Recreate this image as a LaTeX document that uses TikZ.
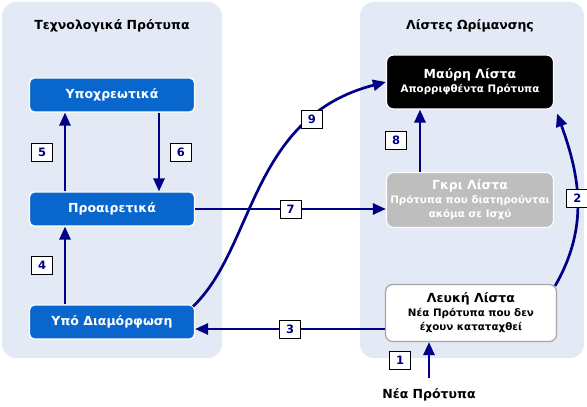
\documentclass[tikz,border=0pt]{standalone}
\usepackage{fontspec}
\setmainfont{DejaVu Sans}
\usetikzlibrary{arrows.meta, positioning, calc}
\definecolor{panelbg}{RGB}{227,233,245}
\definecolor{boxblue}{RGB}{8,102,204}
\definecolor{arrowblue}{RGB}{0,0,135}
\definecolor{boxgray}{RGB}{190,190,190}
\definecolor{edgegray}{RGB}{165,165,165}
\newcommand{\listsub}[1]{{\fontsize{10.3}{12.5}\selectfont #1}}

\begin{document}
\begin{tikzpicture}[
    x=1pt, y=1pt,
    panel/.style={fill=panelbg, rounded corners=14pt, minimum width=220pt, minimum height=356pt},
    heading/.style={font=\bfseries\fontsize{12.5}{14}\selectfont, text=black},
    box/.style={draw=white, line width=1.2pt, rounded corners=5pt, minimum width=165pt, minimum height=34pt, fill=boxblue, text=white, font=\bfseries\fontsize{12.5}{14}\selectfont},
    list/.style={line width=1.2pt, rounded corners=7pt, minimum width=167pt, minimum height=54pt, align=center, inner sep=2pt, font=\bfseries\fontsize{12.5}{14}\selectfont},
    arrow/.style={-{Triangle[length=13pt,width=11pt]}, line width=2.7pt, color=arrowblue},
    num/.style={draw=black, fill=white, line width=0.9pt, minimum width=21pt, minimum height=18pt, inner sep=0pt, text=arrowblue, font=\bfseries\fontsize{11.5}{13}\selectfont}
]
    \useasboundingbox (0,0) rectangle (587,407);

    % panels and headings
    \node[panel] (techpanel) at (112,227) {};
    \node[panel, minimum width=224pt] (listpanel) at (472,227) {};
    \node[heading] (techtitle) at (112,381) {Τεχνολογικά Πρότυπα};
    \node[heading] (listtitle) at (470,381) {Λίστες Ωρίμανσης};

    % technology standards
    \node[box] (mandatory) at (112,312) {Υποχρεωτικά};
    \node[box] (optional) at (112,198) {Προαιρετικά};
    \node[box] (draft) at (112,85) {Υπό Διαμόρφωση};

    % maturity lists
    \node[list, fill=black, draw=white, text=white] (blacklist) at (470,325)
        {Μαύρη Λίστα\\\listsub{Απορριφθέντα Πρότυπα}};
    \node[list, fill=boxgray, draw=white, text=white, minimum height=55pt] (graylist) at (470,207)
        {Γκρι Λίστα\\\listsub{Πρότυπα που διατηρούνται}\\\listsub{ακόμα σε Ισχύ}};
    \node[list, fill=white, draw=edgegray, text=black, minimum width=171pt, minimum height=57pt] (whitelist) at (471,94)
        {Λευκή Λίστα\\\listsub{Νέα Πρότυπα που δεν}\\\listsub{έχουν καταταχθεί}};
    \node[heading] (newstd) at (429,12) {Νέα Πρότυπα};

    % transitions
    \draw[arrow] ([yshift=7]newstd.north) -- node[num, left=18pt] (n1) {1} (newstd.north |- whitelist.south);
    \draw[arrow] ([shift={(-2,-2)}]whitelist.north east) to[out=60, in=-70]
        node[num, pos=0.52] (n2) {2} ([shift={(3,-4)}]blacklist.south east);
    \draw[arrow] ([yshift=-7]draft.east -| whitelist.west) -- node[num] (n3) {3} ([yshift=-7]draft.east);
    \draw[arrow] ([xshift=-47]draft.north) -- node[num, left=12pt] (n4) {4} ([xshift=-47]optional.south);
    \draw[arrow] ([xshift=-47]optional.north) -- node[num, left=12pt] (n5) {5} ([xshift=-47]mandatory.south);
    \draw[arrow] ([xshift=47]mandatory.south) -- node[num, right=11pt] (n6) {6} ([xshift=47]optional.north);
    \draw[arrow] (optional.east) -- node[num, pos=0.5] (n7) {7} (optional.east -| graylist.west);
    \draw[arrow] ([xshift=-50]graylist.north) -- node[num, left=13pt] (n8) {8} ([xshift=-50]blacklist.south);
    \draw[arrow] ([shift={(-2,-2)}]draft.north east) .. controls (255,160) and (250,290) ..
        node[num, pos=0.77] (n9) {9} (blacklist.west);
\end{tikzpicture}
\end{document}
